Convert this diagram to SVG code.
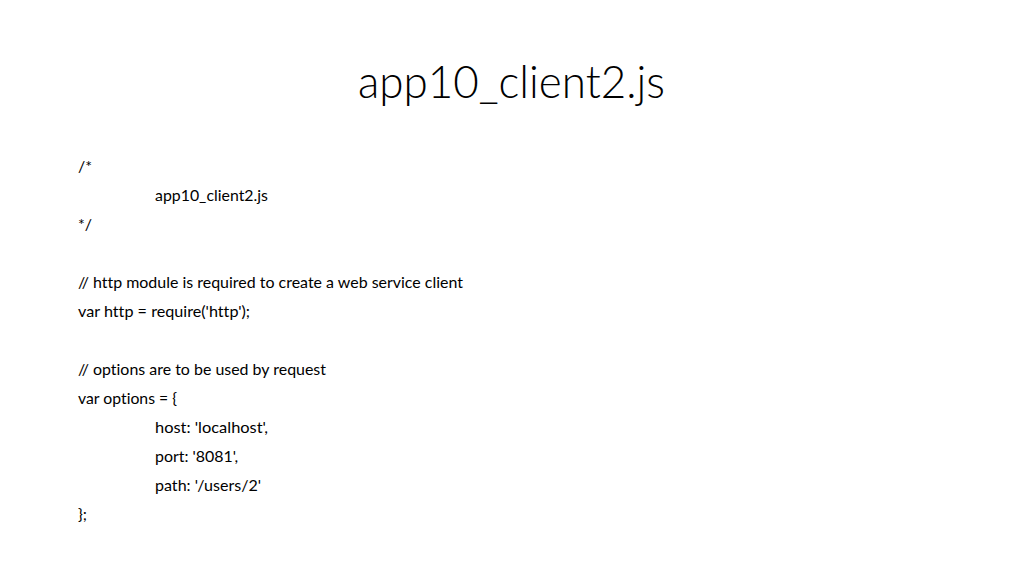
<svg xmlns="http://www.w3.org/2000/svg" width="1024" height="576" viewBox="0 0 1024 576">
<style>
.t{font-family:Lato,"Open Sans","Liberation Sans",sans-serif;font-weight:300;font-size:46px;fill:#000}
.b{font-family:Lato,"Open Sans","Liberation Sans",sans-serif;font-size:16px;fill:#000;font-variant-ligatures:none;font-feature-settings:"liga" 0}
</style>
<rect width="1024" height="576" fill="#fff"/>
<g id="title"><text class="t" x="358" y="98" textLength="307" lengthAdjust="spacingAndGlyphs">app10_client2.js</text></g>
<g id="body">
<text class="b" x="78" y="172">/*</text>
<text class="b" x="155" y="201" textLength="113" lengthAdjust="spacingAndGlyphs">app10_client2.js</text>
<text class="b" x="78" y="230">*/</text>
<text class="b" x="78" y="288" textLength="385" lengthAdjust="spacingAndGlyphs">// http module is required to create a web service client</text>
<text class="b" x="78" y="317" textLength="172" lengthAdjust="spacingAndGlyphs">var http = require('http');</text>
<text class="b" x="78" y="375" textLength="248" lengthAdjust="spacingAndGlyphs">// options are to be used by request</text>
<text class="b" x="78" y="404" textLength="99" lengthAdjust="spacingAndGlyphs">var options = {</text>
<text class="b" x="155" y="433" textLength="113" lengthAdjust="spacingAndGlyphs">host: 'localhost',</text>
<text class="b" x="155" y="462" textLength="83" lengthAdjust="spacingAndGlyphs">port: '8081',</text>
<text class="b" x="155" y="491" textLength="106" lengthAdjust="spacingAndGlyphs">path: '/users/2'</text>
<text class="b" x="78" y="520">};</text>
</g>
</svg>
